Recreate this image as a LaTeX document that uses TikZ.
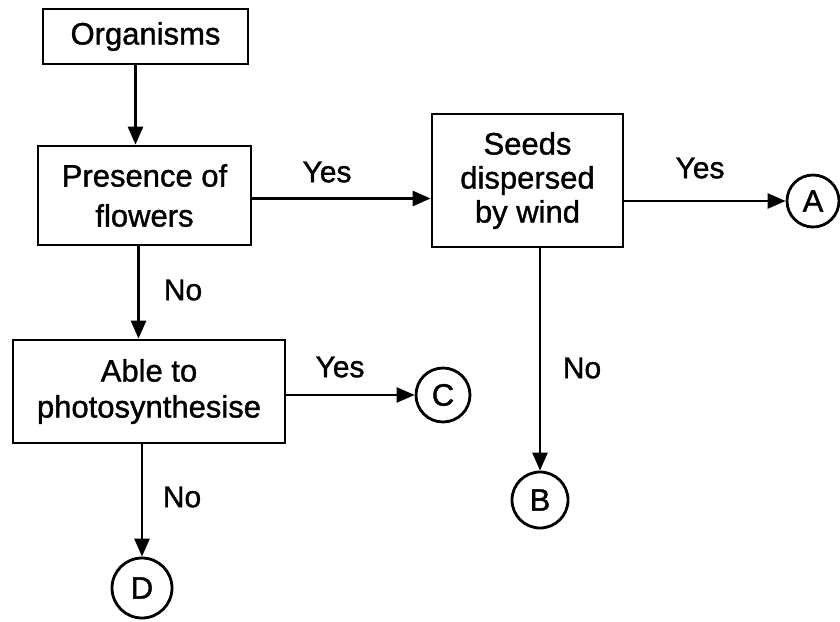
\documentclass[tikz,border=0pt]{standalone}
\usepackage{fontspec}
\setmainfont{Liberation Sans}
\newfontfamily\scanfont{Liberation Sans}[FakeBold=1.2]
\usetikzlibrary{arrows.meta}
\begin{document}
\begin{tikzpicture}[x=1pt,y=-1pt,
  box/.style={draw, line width=2.7pt, inner sep=0pt, align=center,
    font=\scanfont\fontsize{31}{36}\selectfont},
  circ/.style={draw, circle, line width=2.8pt, inner sep=0pt,
    font=\scanfont\fontsize{31}{36}\selectfont},
  arr/.style={line width=2.6pt, -{Triangle[length=18pt,width=15pt]}},
  lab/.style={font=\scanfont\fontsize{30}{36}\selectfont}]
\useasboundingbox (0,0) rectangle (840,621);
\node[box, minimum width=205pt, minimum height=55pt] (org) at (145.5,36.5) {Organisms};
\node[box, minimum width=213pt, minimum height=99pt,
  font=\scanfont\fontsize{31}{40}\selectfont] (pres) at (144.5,195.5) {Presence of\\flowers};
\node[box, minimum width=191pt, minimum height=133pt,
  font=\scanfont\fontsize{31}{34}\selectfont] (seeds) at (527.5,180.5) {Seeds\\dispersed\\by wind};
\node[box, minimum width=272pt, minimum height=103pt] (able) at (149,391.5) {Able to\\photosynthesise};
\node[circ, minimum size=52pt] (A) at (813,201) {A};
\node[circ, minimum size=54pt] (C) at (443,395) {C};
\node[circ, minimum size=56pt] (B) at (540,500) {B};
\node[circ, minimum size=60pt] (D) at (142,588) {D};
\draw[arr] ([xshift=-10pt]org.south) -- ([xshift=-10pt]org.south |- pres.north);
\draw[arr] ([yshift=-3pt]pres.east) -- ([yshift=-3pt]pres.east -| seeds.west);
\draw[arr] (seeds.east |- A.west) -- (A.west);
\draw[arr] ([xshift=-6pt]pres.south) -- ([xshift=-6pt]pres.south |- able.north);
\draw[arr] (able.east |- C.west) -- (C.west);
\draw[arr] (able.south -| D.north) -- (D.north);
\draw[arr] (seeds.south -| B.north) -- (B.north);
\node[lab] (y1) at (327,172) {Yes};
\node[lab] (y2) at (700,168) {Yes};
\node[lab] (y3) at (340,367) {Yes};
\node[lab] (n1) at (183,290) {No};
\node[lab] (n2) at (182,497) {No};
\node[lab] (n3) at (582,368) {No};
\end{tikzpicture}
\end{document}
